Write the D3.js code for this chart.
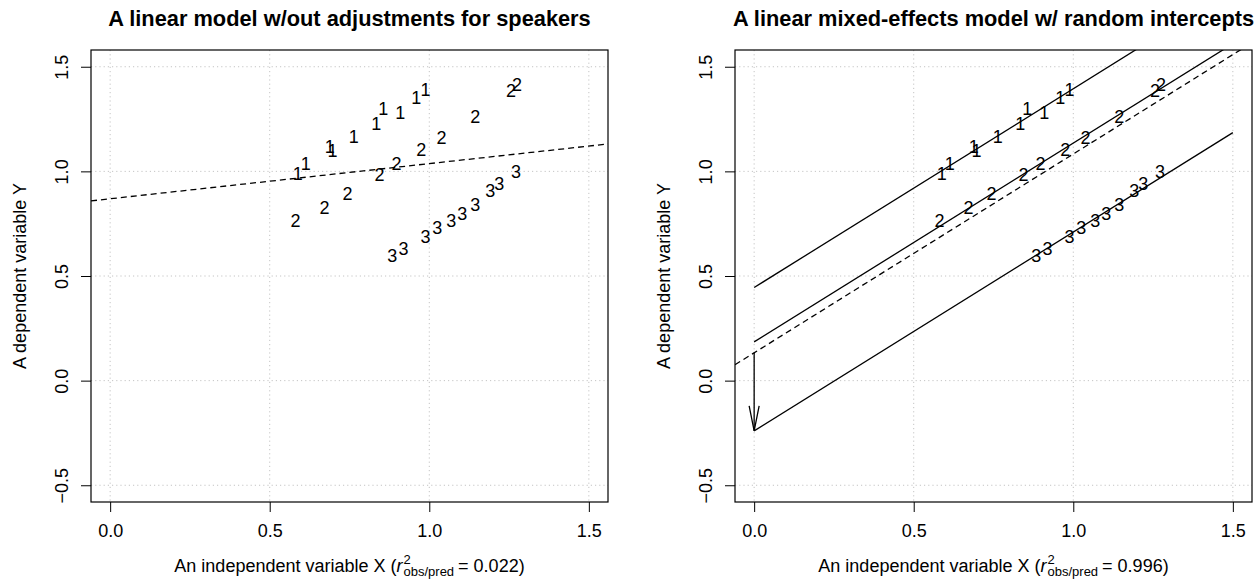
<!DOCTYPE html>
<html>
<head>
<meta charset="utf-8">
<script src="https://cdn.jsdelivr.net/npm/d3@7"></script>
<style>
  body { margin: 0; background: #fff; }
  svg { display: block; font-family: "Liberation Sans", Arial, sans-serif; }
</style>
</head>
<body>
<svg id="chart" width="1260" height="579"></svg>
<script>
var spk1X = [0.588, 0.613, 0.688, 0.697, 0.763, 0.834, 0.856, 0.909, 0.959, 0.988];
var spk1Y = [0.988, 1.036, 1.117, 1.098, 1.165, 1.227, 1.298, 1.279, 1.351, 1.389];
var spk2X = [0.581, 0.672, 0.744, 0.844, 0.897, 0.975, 1.038, 1.144, 1.256, 1.275];
var spk2Y = [0.764, 0.826, 0.893, 0.983, 1.036, 1.103, 1.160, 1.260, 1.384, 1.413];
var spk3X = [0.884, 0.919, 0.988, 1.025, 1.069, 1.103, 1.144, 1.191, 1.219, 1.272];
var spk3Y = [0.597, 0.630, 0.687, 0.730, 0.764, 0.797, 0.840, 0.907, 0.940, 0.998];
var speakers = ["1", "2", "3"];

// model coefficients
var lmCoef = [0.869, 0.168];            // simple lm: intercept, slope
var fixedCoef = [0.133, 0.95];          // mixed model fixed effects
var randomIntercepts = [0.445, 0.185, -0.24];  // per-speaker intercepts

var xTicks = [0, 0.5, 1, 1.5];
var yTicks = [-0.5, 0, 0.5, 1, 1.5];
var titles = ["A linear model w/out adjustments for speakers",
              "A linear mixed-effects model w/ random intercepts"];
var r2 = ["0.022", "0.996"];

var svg = d3.select("#chart");
var top_ = 50, bottom = 502;
var panels = [{ left: 91, right: 608 }, { left: 735, right: 1252 }];
var fs = 18;

var points = [];
[spk1X, spk2X, spk3X].forEach(function (xs, s) {
  var ys = [spk1Y, spk2Y, spk3Y][s];
  xs.forEach(function (x, i) { points.push({ x: x, y: ys[i], s: speakers[s] }); });
});

// x label with r^2 sub obs/pred, pieces laid out by measured width
function mathLabel(g, cx, y, pre, post) {
  var grp = g.append("g").attr("font-size", fs);
  var x = 0;
  var t = grp.append("text").attr("x", x).attr("y", y).text(pre);
  x += t.node().getComputedTextLength();
  t = grp.append("text").attr("x", x).attr("y", y).style("font-style", "italic").text("r");
  x += t.node().getComputedTextLength() + 1;
  var sup = grp.append("text").attr("x", x).attr("y", y - 8).attr("font-size", 13).text("2");
  var sub = grp.append("text").attr("x", x).attr("y", y + 4).attr("font-size", 13).text("obs/pred");
  x += Math.max(sup.node().getComputedTextLength(), sub.node().getComputedTextLength()) + 4;
  t = grp.append("text").attr("x", x).attr("y", y).text(post);
  x += t.node().getComputedTextLength();
  grp.attr("transform", "translate(" + (cx - x / 2) + ",0)");
}

panels.forEach(function (p, k) {
  var x = d3.scaleLinear().domain([-0.06, 1.56]).range([p.left, p.right]);
  var y = d3.scaleLinear().domain([-0.58, 1.58]).range([bottom, top_]);
  var g = svg.append("g");
  var cid = "clip" + k;

  svg.append("clipPath").attr("id", cid).append("rect")
    .attr("x", p.left).attr("y", top_)
    .attr("width", p.right - p.left).attr("height", bottom - top_);

  // grid
  g.selectAll(".vg").data(xTicks).enter().append("line")
    .attr("x1", x).attr("x2", x).attr("y1", top_).attr("y2", bottom)
    .attr("stroke", "#c4c4c4").attr("stroke-dasharray", "1.2,3");
  g.selectAll(".hg").data(yTicks).enter().append("line")
    .attr("y1", y).attr("y2", y).attr("x1", p.left).attr("x2", p.right)
    .attr("stroke", "#c4c4c4").attr("stroke-dasharray", "1.2,3");

  // axes
  var ax = g.append("g").attr("transform", "translate(0," + bottom + ")")
    .call(d3.axisBottom(x).tickValues(xTicks).tickFormat(d3.format(".1f")).tickSize(10).tickSizeOuter(0));
  ax.select(".domain").remove();
  ax.selectAll("text").attr("y", 35).attr("dy", 0).attr("font-size", fs).attr("fill", "#000")
    .attr("font-family", null);

  var ay = g.append("g").attr("transform", "translate(" + p.left + ",0)")
    .call(d3.axisLeft(y).tickValues(yTicks).tickFormat(d3.format(".1f")).tickSize(10).tickSizeOuter(0));
  ay.select(".domain").remove();
  ay.selectAll("text").attr("x", 0).attr("y", -23).attr("dy", 0)
    .attr("transform", "rotate(-90)").attr("text-anchor", "middle")
    .attr("font-size", fs).attr("fill", "#000").attr("font-family", null);

  var plot = g.append("g").attr("clip-path", "url(#" + cid + ")");

  if (k === 0) {
    plot.append("line")
      .attr("x1", x(-0.06)).attr("y1", y(lmCoef[0] + lmCoef[1] * -0.06))
      .attr("x2", x(1.56)).attr("y2", y(lmCoef[0] + lmCoef[1] * 1.56))
      .attr("stroke", "#000").attr("stroke-width", 1.3).attr("stroke-dasharray", "6,4");
  } else {
    plot.selectAll(".spk").data(randomIntercepts).enter().append("line")
      .attr("x1", x(0)).attr("y1", function (d) { return y(d); })
      .attr("x2", x(1.5)).attr("y2", function (d) { return y(d + fixedCoef[1] * 1.5); })
      .attr("stroke", "#000").attr("stroke-width", 1.3);
    plot.append("line")
      .attr("x1", x(-0.06)).attr("y1", y(fixedCoef[0] + fixedCoef[1] * -0.06))
      .attr("x2", x(1.56)).attr("y2", y(fixedCoef[0] + fixedCoef[1] * 1.56))
      .attr("stroke", "#000").attr("stroke-width", 1.3).attr("stroke-dasharray", "6,4");
    // arrow from fixed intercept down to speaker 3's intercept
    var ax0 = x(0), ya = y(fixedCoef[0]), yb = y(randomIntercepts[2]);
    plot.append("line").attr("x1", ax0).attr("x2", ax0).attr("y1", ya).attr("y2", yb)
      .attr("stroke", "#000").attr("stroke-width", 1.3);
    plot.append("path")
      .attr("d", "M" + (ax0 - 5) + "," + (yb - 25) + "L" + ax0 + "," + yb + "L" + (ax0 + 5) + "," + (yb - 25))
      .attr("fill", "none").attr("stroke", "#000").attr("stroke-width", 1.3);
  }

  plot.selectAll(".pt").data(points).enter().append("text")
    .attr("x", function (d) { return x(d.x); })
    .attr("y", function (d) { return y(d.y); })
    .attr("dy", "0.36em").attr("text-anchor", "middle").attr("font-size", fs)
    .text(function (d) { return d.s; });

  // box
  g.append("rect").attr("x", p.left).attr("y", top_)
    .attr("width", p.right - p.left).attr("height", bottom - top_)
    .attr("fill", "none").attr("stroke", "#000").attr("stroke-width", 1.2);

  // titles
  g.append("text").attr("x", (p.left + p.right) / 2).attr("y", 26)
    .attr("text-anchor", "middle").attr("font-weight", "bold").attr("font-size", 21.8)
    .text(titles[k]);
  g.append("text")
    .attr("transform", "translate(" + (p.left - 65) + "," + ((top_ + bottom) / 2) + ") rotate(-90)")
    .attr("text-anchor", "middle").attr("font-size", fs)
    .text("A dependent variable Y");
  mathLabel(g, (p.left + p.right) / 2, 572, "An independent variable X (", " = " + r2[k] + ")");
});
</script>
</body>
</html>
